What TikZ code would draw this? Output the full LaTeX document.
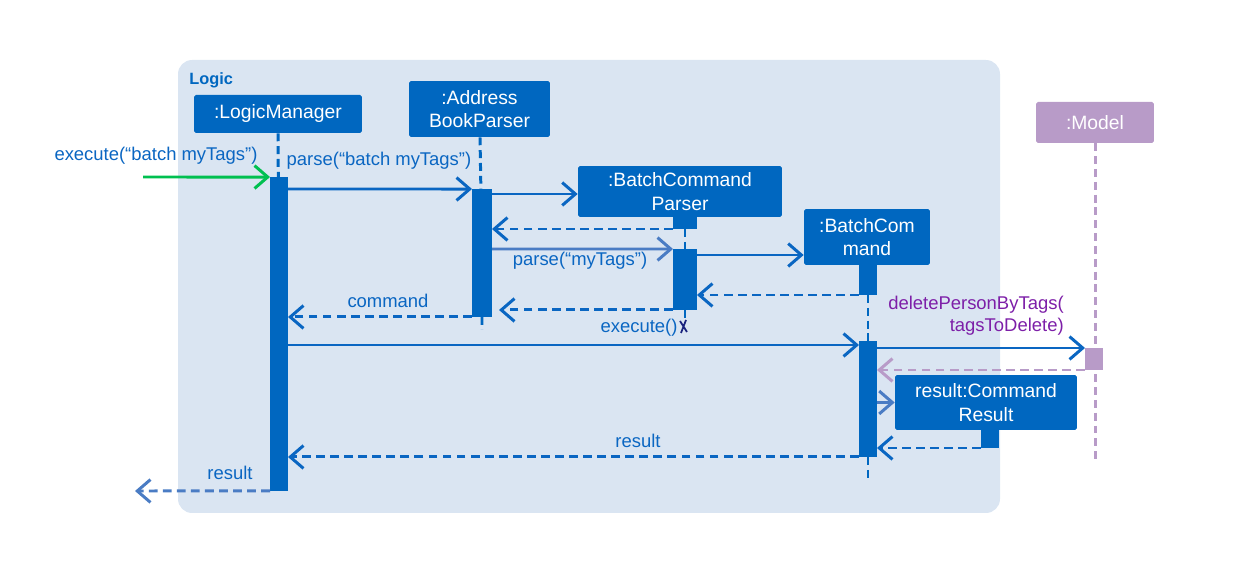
\documentclass[tikz,border=0pt]{standalone}
\usepackage{fontspec}
\setmainfont{Liberation Sans}
\usetikzlibrary{arrows.meta}
\definecolor{objblue}{HTML}{0067C0}
\definecolor{msgblue}{HTML}{0A66C2}
\definecolor{softblue}{HTML}{4A7CC4}
\definecolor{framebg}{HTML}{DAE5F2}
\definecolor{modelpurple}{HTML}{B89BC8}
\definecolor{labelpurple}{HTML}{7D1FA8}
\definecolor{okgreen}{HTML}{00C050}
\definecolor{crossnavy}{HTML}{1A237E}

\begin{document}
\begin{tikzpicture}[x=0.02cm,y=-0.02cm, % one unit = one pixel of the reference
  obj/.style={fill=objblue,text=white,inner sep=0pt,align=center,rounded corners=1pt,
    font=\fontsize{11}{13.5}\selectfont},
  bar/.style={fill=objblue,inner sep=0pt,outer sep=0pt,minimum width=0.36cm},
  life/.style={draw=objblue,line width=1.7pt,dash pattern=on 4.5pt off 2.8pt},
  msg/.style={draw=msgblue,line width=1.7pt,-{Straight Barb[length=7.5pt,width=13pt]}},
  ret/.style={msg,dash pattern=on 5pt off 3pt},
  lbl/.style={text=msgblue,inner sep=0pt,font=\fontsize{10.5}{12.5}\selectfont}]
\useasboundingbox (0,0) rectangle (1259,577);
\fill[framebg,rounded corners=8pt] (178,60) rectangle (1000,513);
\node[anchor=west,inner sep=0pt,text=objblue,font=\fontsize{9.3}{11}\selectfont\bfseries] (logic) at (189,80) {Logic};

% objects
\node[obj,minimum width=3.36cm,minimum height=0.76cm] (lm) at (278,114) {:LogicManager};
\node[obj,minimum width=2.82cm,minimum height=1.12cm] (abp) at (479.5,109) {:Address\\BookParser};
\node[obj,minimum width=4.08cm,minimum height=1.02cm] (bcp) at (680,191.5) {:BatchCommand\\Parser};
\node[obj,minimum width=2.52cm,minimum height=1.12cm] (bc) at (867,237) {:BatchCom\\mand};
\node[obj,fill=modelpurple,minimum width=2.36cm,minimum height=0.82cm] (model) at (1095,122.5) {:Model};
\node[obj,minimum width=3.64cm,minimum height=1.1cm] (cr) at (986,402.5) {result:Command\\Result};

\coordinate (abpEnd) at (482,330);
\coordinate (bcpEnd) at (685,322);
\coordinate (bcEnd) at (868,480);
\coordinate (modelEnd) at (1095,460);
\coordinate (callIn) at (143,177);
\coordinate (resultOut) at (135,491);

% activations
\node[bar,minimum height=6.28cm] (lmA) at (279,334) {};
\node[bar,minimum width=0.4cm,minimum height=2.56cm] (abpA) at (482,253) {};
\node[bar,minimum width=0.48cm,minimum height=0.24cm] (bcpS) at (685,223) {};
\node[bar,minimum width=0.48cm,minimum height=1.22cm] (bcpA) at (685,279.5) {};
\node[bar,minimum height=0.6cm] (bcS) at (868,280) {};
\node[bar,minimum height=2.32cm] (bcA) at (868,399) {};
\node[bar,minimum height=0.36cm] (crS) at (990,439) {};

% lifelines
\draw[life] (lm) -- (lmA);
\draw[life] (abp) -- (abpA) (abpA) -- (abpEnd);
\draw[life] (bcpS) -- (bcpA) (bcpA) -- (bcpEnd);
\draw[life] (bcS) -- (bcA) (bcA) -- (bcEnd);
\draw[life,draw=modelpurple] (model) -- (modelEnd);
\node[bar,fill=modelpurple,minimum height=0.44cm] (mA) at (1094,359) {};
\draw[crossnavy,line width=1pt] (680,321) -- (687,332) (686,320) -- (681,333);

% messages
\draw[msg,draw=okgreen] (callIn) -- (lmA.north west);
\draw[msg] (lmA.east |- 0,189) -- (abpA.north west);
\draw[msg] (abpA.east |- 0,194) -- (bcp.west |- 0,194);
\draw[ret] (bcpS.south west) -- (abpA.east |- bcpS.south);
\draw[msg,draw=softblue] (abpA.east |- 0,249) -- (bcpA.north west);
\draw[msg] (bcpA.east |- 0,255) -- (bc.west |- 0,255);
\draw[ret] (bcS.south west) -- (bcpA.east |- bcS.south);
\draw[ret,shorten >=4pt] (bcpA.south west) -- (abpA.east |- bcpA.south);
\draw[ret] (abpA.south west) -- (lmA.east |- abpA.south);
\draw[msg] (lmA.east |- 0,345) -- (bcA.west |- 0,345);
\draw[msg] (bcA.east |- mA.north) -- (mA.north west);
\draw[ret,draw=modelpurple] (mA.south west) -- (bcA.east |- mA.south);
\draw[msg,draw=softblue] (bcA.east |- cr.west) -- (cr.west);
\draw[ret] (crS.south west) -- (bcA.east |- crS.south);
\draw[ret] (bcA.south west) -- (lmA.east |- bcA.south);
\draw[ret,draw=softblue] (lmA.south west) -- (resultOut);

% labels
\node[lbl] (l1) at (156,156) {execute(“batch myTags”)};
\node[lbl] (l2) at (379,161) {parse(“batch myTags”)};
\node[lbl] (l3) at (580,261) {parse(“myTags”)};
\node[lbl] (l4) at (388,301) {command};
\node[lbl] (l5) at (639,328) {execute()};
\node[lbl,text=labelpurple,align=right,anchor=east] (l6) at (1064,316) {deletePersonByTags(\\tagsToDelete)};
\node[lbl] (l7) at (638,441) {result};
\node[lbl] (l8) at (230,473) {result};
\end{tikzpicture}
\end{document}
